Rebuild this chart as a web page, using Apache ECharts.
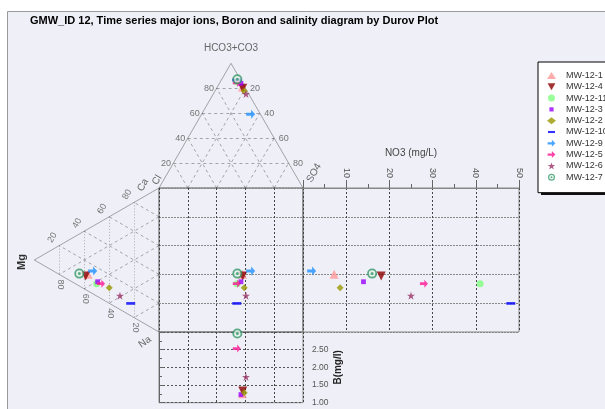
<!DOCTYPE html>
<html>
<head>
<meta charset="utf-8">
<script src="https://cdn.jsdelivr.net/npm/echarts@6/dist/echarts.min.js"></script>
<style>
html, body { margin: 0; padding: 0; background: #fff; }
#chart { width: 605px; height: 409px; }
</style>
</head>
<body>
<div id="chart"></div>
<script>
/* ===== data (meq %) ===== */
const samples = ["MW-12-1", "MW-12-4", "MW-12-11", "MW-12-3", "MW-12-2", "MW-12-10", "MW-12-9", "MW-12-5", "MW-12-6", "MW-12-7"];
// anions
const hco3 = [81.0, 80.0, 85.0, 84.0, 77.8, 86.6, 59.1, 84.2, 75.4, 87.2];
const so4  = [17.5, 18.1, 11.7, 14.9, 20.3, 10.7, 34.1, 11.9, 22.7, 10.8];
const cl   = [ 1.5,  1.9,  3.3,  1.1,  1.9,  2.7,  6.8,  3.9,  1.9,  2.0];
// cations
const ca = [11.7,  9.5,  8.5, 10.3, 10.8,  8.5, 15.8, 10.3,  9.6,  8.6];
const mg = [56.9, 58.8, 50.0, 49.2, 39.9, 22.7, 53.2, 46.5, 31.3, 63.9];
const na = [31.4, 31.7, 41.5, 40.5, 49.3, 68.8, 31.0, 43.2, 59.1, 27.5];
// NO3 (mg/L) and boron (mg/l)
const no3 = [7.2, 18.1, 41.0, 14.0, 8.6, 48.1, 2.0, 28.0, 25.0, 16.0];
const boron = [1.25, 1.33, null, 1.23, 1.28, null, null, 2.53, 1.73, 2.96];

const ternTicks = [20, 40, 60, 80];

/* ===== styles ===== */
const colors = ["#FF9999", "#8B0000", "#80FF80", "#9900FF", "#999900", "#0000FF", "#1E90FF", "#FF1493", "#993366", "#339966"];
const arrow = "path://M0,3.5L5.5,3.5L5.5,0.5L10,5L5.5,9.5L5.5,6.5L0,6.5Z";
const symbols = [
    "triangle",
    "path://M0,0L10,0L5,9Z",
    "circle",
    "path://M0,0M10,10M2,2L8,2L8,8L2,8Z",
    "diamond",
    "path://M0,0M10,10M0,3.5L10,3.5L10,6.5L0,6.5Z",
    arrow,
    arrow,
    "path://M5,0L6.2,3.6L10,3.6L7,5.9L8.1,9.5L5,7.3L1.9,9.5L3,5.9L0,3.6L3.8,3.6Z",
    "path://M10,0A10,10 0 1,1 10,20A10,10 0 1,1 10,0Z M10,3.5A6.5,6.5 0 1,0 10,16.5A6.5,6.5 0 1,0 10,3.5Z M10,7A3,3 0 1,1 10,13A3,3 0 1,1 10,7Z"
];
const sizes = [9, 9, 7, 8, 7, 9, 9, 8, 8, 10];
const RING = 9; // index of the ringed symbol that gets a pale centre
const FONT = "'Liberation Sans', Arial, sans-serif";

/* ===== projections ===== */
function anionX(i) { const s = hco3[i] + so4[i] + cl[i]; return (so4[i] + hco3[i] / 2) / s * 100; }
function anionY(i) { const s = hco3[i] + so4[i] + cl[i]; return hco3[i] / s * 100; }
function cationX(i) { const s = ca[i] + mg[i] + na[i]; return mg[i] / s * 100; }
function cationY(i) { const s = ca[i] + mg[i] + na[i]; return (na[i] + mg[i] / 2) / s * 100; }

/* ===== triangle frames ===== */
const topOutline = [[[0, 0], [50, 100]], [[50, 100], [100, 0]]];
const topInner = [];
ternTicks.forEach(t => {
    topInner.push([[t / 2, t], [100 - t / 2, t]]);           // HCO3
    topInner.push([[t, 0], [t + (100 - t) / 2, 100 - t]]);   // SO4
    topInner.push([[100 - t, 0], [(100 - t) / 2, 100 - t]]); // Cl
});
const leftOutline = [[[0, 0], [100, 50]], [[100, 50], [0, 100]]];
const leftVert = ternTicks.map(t => [[t, t / 2], [t, 100 - t / 2]]);
const leftDiag = [];
ternTicks.forEach(t => {
    leftDiag.push([[0, t], [100 - t, t + (100 - t) / 2]]);
    leftDiag.push([[0, 100 - t], [100 - t, (100 - t) / 2]]);
});

// label offset is rotated together with the text, so turn a screen offset into a local one
function rotOffset(dx, dy, deg) {
    const t = deg * Math.PI / 180;
    return [dx * Math.cos(t) - dy * Math.sin(t), dx * Math.sin(t) + dy * Math.cos(t)];
}

function linesSeries(idx, segs, lineStyle) {
    return {
        type: "lines", coordinateSystem: "cartesian2d", xAxisIndex: idx, yAxisIndex: idx,
        silent: true, z: 1, data: segs.map(c => ({ coords: c })), lineStyle: lineStyle
    };
}
function labelSeries(idx, data, label) {
    if (label.screenOffset) {
        label.offset = rotOffset(label.screenOffset[0], label.screenOffset[1], label.rotate || 0);
        delete label.screenOffset;
    }
    return {
        type: "scatter", xAxisIndex: idx, yAxisIndex: idx, silent: true, z: 5,
        symbolSize: 1, itemStyle: { color: "rgba(0,0,0,0)" },
        data: data,
        label: Object.assign({
            show: true, position: "inside", color: "#555", fontSize: 9, fontFamily: FONT,
            formatter: p => p.data.text
        }, label)
    };
}

const series = [
    linesSeries(0, topOutline, { color: "#555", width: 1, type: "solid" }),
    linesSeries(0, topInner, { color: "#333", width: 0.8, type: [3, 3] }),
    linesSeries(1, leftOutline, { color: "#555", width: 1, type: "solid" }),
    linesSeries(1, leftDiag, { color: "#333", width: 0.8, type: [3, 3] }),
    linesSeries(1, leftVert, { color: "#444", width: 0.8, type: [1, 2] }),
    labelSeries(0, ternTicks.map(t => ({ value: [t / 2, t], text: String(t) })), { position: "left", distance: 2 }),
    labelSeries(0, ternTicks.map(t => ({ value: [100 - t / 2, t], text: String(100 - t) })), { position: "right", distance: 4 }),
    labelSeries(1, ternTicks.map(t => ({ value: [t, t / 2], text: String(100 - t) })), { rotate: 60, screenOffset: [-7, -8] }),
    labelSeries(1, ternTicks.map(t => ({ value: [t, 100 - t / 2], text: String(t) })), { rotate: -90, screenOffset: [1, 10] }),
    labelSeries(0, [{ value: [50, 100], text: "HCO3+CO3" }], { screenOffset: [0, -15], color: "#444", fontSize: 10 }),
    labelSeries(0, [{ value: [0, 0], text: "Cl" }], { screenOffset: [-2, -8], rotate: 60, color: "#444", fontSize: 10 }),
    labelSeries(0, [{ value: [100, 0], text: "SO4" }], { screenOffset: [11, -15], rotate: 60, color: "#444", fontSize: 10 }),
    labelSeries(1, [{ value: [0, 0], text: "Ca" }], { screenOffset: [-16, -3], rotate: 60, color: "#444", fontSize: 10 }),
    labelSeries(1, [{ value: [0, 100], text: "Na" }], { screenOffset: [-14, 10], rotate: 35, color: "#444", fontSize: 10 }),
    labelSeries(1, [{ value: [100, 50], text: "Mg" }], { screenOffset: [-12, 2], rotate: 90, color: "#000", fontWeight: "bold", fontSize: 11 })
];

samples.forEach((name, i) => {
    const points = [
        [0, [[anionX(i), anionY(i)]]],
        [1, [[cationX(i), cationY(i)]]],
        [2, [[anionX(i), cationY(i)]]],
        [3, [[no3[i], cationY(i)]]],
        [4, boron[i] == null ? [] : [[anionX(i), boron[i]]]]
    ];
    points.forEach(([idx, data]) => {
        series.push({
            type: "scatter", name: name, xAxisIndex: idx, yAxisIndex: idx, data: data,
            symbol: symbols[i], symbolSize: sizes[i], itemStyle: { color: colors[i] },
            z: i === RING ? 12 : 10
        });
    });
    if (i === RING) {
        points.forEach(([idx, data]) => {
            series.push({
                type: "scatter", name: name, xAxisIndex: idx, yAxisIndex: idx, data: data,
                symbol: "circle", symbolSize: 7, itemStyle: { color: "#E4F0EA" }, z: 11
            });
        });
    }
});

const hidden = { axisLine: { show: false }, axisTick: { show: false }, axisLabel: { show: false } };
const vSplit = { show: true, lineStyle: { color: "#444", width: 1, type: [2, 2] } };
const hSplit = { show: true, lineStyle: { color: "#888", width: 1, type: [2, 1] } };

function gridAt(left, top, width, height, border) {
    return {
        left: left, top: top, width: width, height: height, outerBoundsMode: "none", containLabel: false,
        show: !!border, borderColor: border || "transparent", borderWidth: 1, backgroundColor: "transparent"
    };
}

const option = {
    animation: false,
    backgroundColor: "#fff",
    textStyle: { fontFamily: FONT },
    graphic: [{
        type: "rect", z: -10, silent: true,
        shape: { x: 7.5, y: 11.5, width: 640, height: 420 },
        style: { fill: "#EFEFF7", stroke: "#999", lineWidth: 1 }
    }, {
        // legend drop shadow
        type: "rect", z: -5, silent: true,
        shape: { x: 541, y: 65, width: 100, height: 130 },
        style: { fill: "#111" }
    }],
    title: {
        text: "GMW_ID 12, Time series major ions, Boron and salinity diagram by Durov Plot",
        left: 30, top: 15, padding: 0,
        textStyle: { fontSize: 11, fontWeight: "bold", color: "#000", fontFamily: FONT }
    },
    legend: {
        data: samples, orient: "vertical", left: 538, top: 62,
        padding: [9, 12, 11, 9], itemWidth: 9, itemHeight: 7, itemGap: 2.3,
        backgroundColor: "#fff", borderColor: "#000", borderWidth: 1,
        textStyle: { fontSize: 9, color: "#333", fontFamily: FONT, padding: [0, 0, 0, 5] },
        selectedMode: false
    },
    grid: [
        gridAt(159, 63.3, 144, 124.7),
        gridAt(34.3, 188, 124.7, 144),
        gridAt(159, 188, 144, 144, "#555"),
        gridAt(303, 188, 216, 144, "#888"),
        gridAt(159, 332, 144, 70.7, "#888")
    ],
    xAxis: [
        Object.assign({ gridIndex: 0, type: "value", min: 0, max: 100, splitLine: { show: false } }, hidden),
        Object.assign({ gridIndex: 1, type: "value", min: 0, max: 100, inverse: true, splitLine: { show: false } }, hidden),
        Object.assign({ gridIndex: 2, type: "value", min: 0, max: 100, interval: 20, splitLine: vSplit }, hidden),
        {
            gridIndex: 3, type: "value", position: "top", min: 0, max: 50, interval: 10,
            name: "NO3 (mg/L)", nameLocation: "middle", nameGap: 30,
            nameTextStyle: { fontSize: 10, color: "#444", fontFamily: FONT },
            axisLine: { show: true, lineStyle: { color: "#888" } },
            axisTick: { show: true, inside: false, length: 8, lineStyle: { color: "#666" } },
            minorTick: { show: true, splitNumber: 2, length: 4, lineStyle: { color: "#666" } },
            axisLabel: { show: true, rotate: -90, margin: 10, fontSize: 9, color: "#555", showMinLabel: false },
            splitLine: vSplit
        },
        Object.assign({ gridIndex: 4, type: "value", min: 0, max: 100, interval: 20, splitLine: vSplit }, hidden)
    ],
    yAxis: [
        Object.assign({ gridIndex: 0, type: "value", min: 0, max: 100, splitLine: { show: false } }, hidden),
        Object.assign({ gridIndex: 1, type: "value", min: 0, max: 100, inverse: true, splitLine: { show: false } }, hidden),
        Object.assign({ gridIndex: 2, type: "value", min: 0, max: 100, interval: 20, inverse: true, splitLine: hSplit }, hidden),
        Object.assign({ gridIndex: 3, type: "value", min: 0, max: 100, interval: 20, inverse: true, splitLine: hSplit }, hidden),
        {
            gridIndex: 4, type: "value", position: "right", min: 1, max: 3, interval: 0.5,
            name: "B(mg/l)", nameLocation: "middle", nameGap: 30, nameRotate: 90,
            nameTextStyle: { fontSize: 10, fontWeight: "bold", color: "#222", fontFamily: FONT },
            axisLine: { show: true, lineStyle: { color: "#666" } },
            axisTick: { show: true, inside: false, length: 5, lineStyle: { color: "#666" } },
            minorTick: { show: true, splitNumber: 2, length: 3, lineStyle: { color: "#666" } },
            axisLabel: { show: true, margin: 9, fontSize: 8.5, color: "#555", showMaxLabel: false, formatter: v => v.toFixed(2) },
            splitLine: { show: true, lineStyle: { color: "#555", width: 1, type: [2, 2] } }
        }
    ],
    series: series
};

const chart = echarts.init(document.getElementById("chart"));
chart.setOption(option);
</script>
</body>
</html>
